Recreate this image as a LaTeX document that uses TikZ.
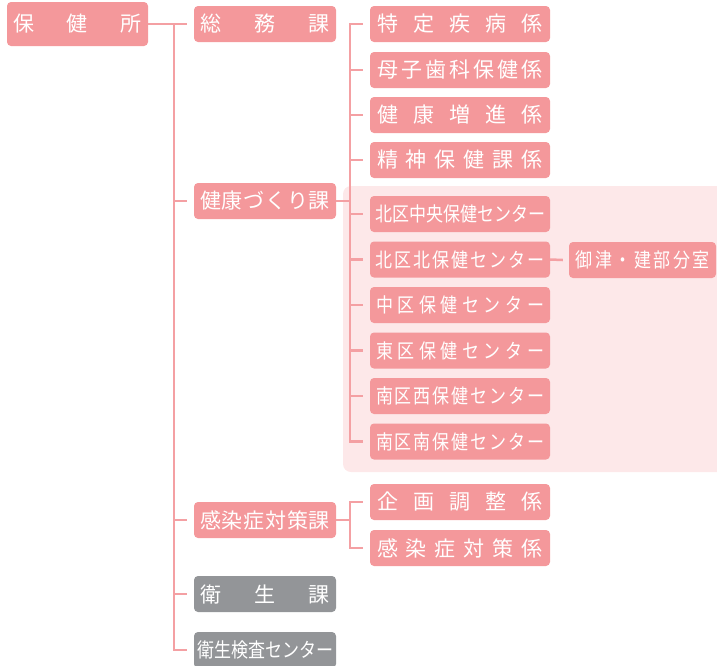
\documentclass[tikz,border=0pt]{standalone}
\usepackage{fontspec}
\newfontfamily\jp{Noto Sans CJK JP}
\newfontfamily\jpn[FakeStretch=0.85]{Noto Sans CJK JP}
\definecolor{boxpink}{HTML}{F4989B}
\definecolor{linepink}{HTML}{F4A0A3}
\definecolor{bgpink}{HTML}{FDE8E9}
\definecolor{boxgray}{HTML}{939598}
\def\jspreadin#1{\ifx#1\relax\else\hfill#1\expandafter\jspreadin\fi}
\def\jspreadfirst#1{#1\jspreadin}
\newcommand\jspread[2]{\makebox[#1pt][s]{\jspreadfirst#2\relax}}
\tikzset{
  orgbox/.style={fill=boxpink, rounded corners=4, inner sep=0, minimum height=36,
    text=white, font=\jp\fontsize{21}{21}\selectfont},
  narrow/.style={font=\jpn\fontsize{20}{20}\selectfont},
  kabox/.style={orgbox, minimum width=142},
  kakari/.style={orgbox, minimum width=180},
  center/.style={kakari, narrow},
  graybox/.style={kabox, fill=boxgray},
  conn/.style={draw=linepink, line width=2.5pt},
}
\begin{document}
\begin{tikzpicture}[x=1pt,y=-1pt]
\useasboundingbox (0,0) rectangle (717,665);
\clip (0,0) rectangle (717,665);
\fill[bgpink, rounded corners=8] (343,186) rectangle (740,472);

\node[orgbox, minimum width=141, minimum height=44] (hoken) at (77.5,24) {\jspread{128}{保健所}};

\node[kabox] (soumu) at (265,24) {\jspread{130}{総務課}};
\node[kabox] (kenkou) at (265,201) {\jspread{130}{健康づくり課}};
\node[kabox] (kansen) at (265,520) {\jspread{130}{感染症対策課}};
\node[graybox] (eisei) at (265,594) {\jspread{130}{衛生課}};
\node[graybox, narrow] (eiken) at (265,650) {\jspread{136}{衛生検査センター}};

\node[kakari] (tokutei) at (460,24) {\jspread{166}{特定疾病係}};
\node[kakari] (boshi) at (460,70) {\jspread{166}{母子歯科保健係}};
\node[kakari] (zoushin) at (460,115) {\jspread{166}{健康増進係}};
\node[kakari] (seishin) at (460,160) {\jspread{166}{精神保健課係}};

\node[center] (kitachuo) at (460,214) {\jspread{170}{北区中央保健センター}};
\node[center] (kitakita) at (460,259.5) {\jspread{169}{北区北保健センター}};
\node[center] (naka) at (460,305) {\jspread{168}{中区保健センター}};
\node[center] (higashi) at (460,350.5) {\jspread{168}{東区保健センター}};
\node[center] (mnishi) at (460,396) {\jspread{168}{南区西保健センター}};
\node[center] (mminami) at (460,441.5) {\jspread{168}{南区南保健センター}};

\node[orgbox, narrow, minimum width=147] (mitsu) at (642.5,260) {\jspread{134}{御津・建部分室}};

\node[kakari] (kikaku) at (460,502) {\jspread{166}{企画調整係}};
\node[kakari] (kansenkei) at (460,548) {\jspread{166}{感染症対策係}};

% main trunk
\coordinate (ta) at (174,24);
\draw[conn] (hoken.east) -- ([xshift=-7]soumu.west);
\draw[conn] (ta) |- ([xshift=-7]eiken.west);
\foreach \n in {kenkou,kansen,eisei}
  \draw[conn] (ta |- \n.west) -- ([xshift=-7]\n.west);

% second trunk
\coordinate (tb) at (350,0);
\draw[conn] ([xshift=-7]tokutei.west) -| (tb |- mminami.west) -- ([xshift=-7]mminami.west);
\foreach \n in {boshi,zoushin,seishin,kitachuo,kitakita,naka,higashi,mnishi}
  \draw[conn] (tb |- \n.west) -- ([xshift=-7]\n.west);
\draw[conn] (kenkou.east) -- (tb |- kenkou.east);

% third trunk
\draw[conn] ([xshift=-7]kikaku.west) -| (tb |- kansenkei.west) -- ([xshift=-7]kansenkei.west);
\draw[conn] (kansen.east) -- (tb |- kansen.east);

% branch office
\draw[conn] (kitakita.east) -- ([xshift=-6]mitsu.west);
\end{tikzpicture}
\end{document}
